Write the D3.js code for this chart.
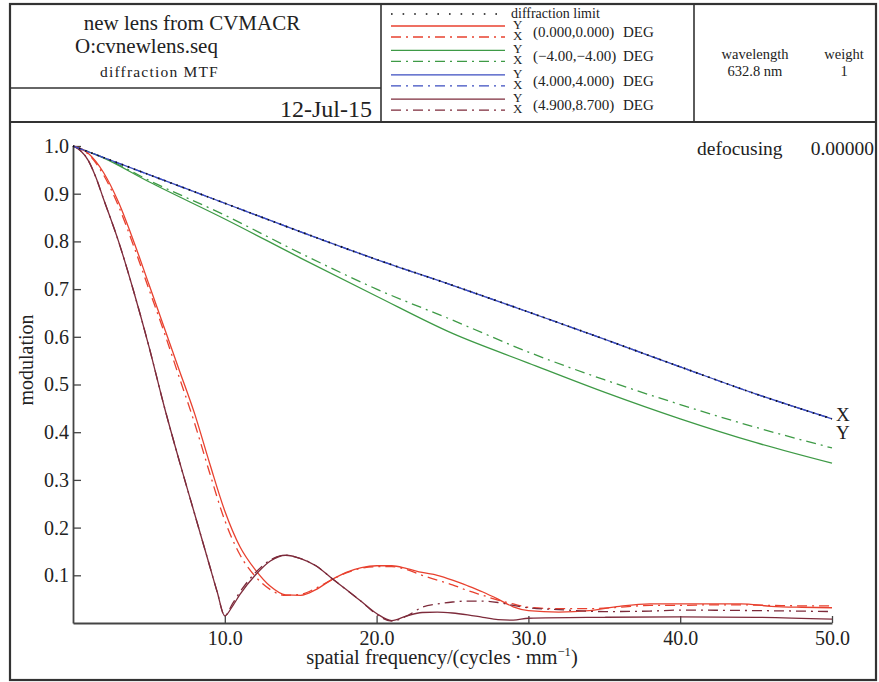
<!DOCTYPE html>
<html>
<head>
<meta charset="utf-8">
<script src="https://cdn.jsdelivr.net/npm/d3@7/dist/d3.min.js"></script>
<style>
	body { margin: 0; background: #fff; }
	text { font-family: "Liberation Serif", "Times New Roman", serif; fill: #222; }
</style>
</head>
<body>
<div id="chart"></div>
<script>
// MTF data: [spatial frequency, modulation]
var diffLimit = [[0,1.0],[5,0.94],[10,0.88],[15,0.82],[20,0.762],[25,0.708],[30,0.652],[35,0.595],[40,0.537],[45,0.48],[50,0.428]];
var blueY = [[0,1.0],[5,0.94],[10,0.88],[15,0.82],[20,0.762],[25,0.708],[30,0.652],[35,0.595],[40,0.537],[45,0.48],[50,0.428]];
var blueX = [[0,1.0],[5,0.94],[10,0.88],[15,0.82],[20,0.762],[25,0.708],[30,0.652],[35,0.595],[40,0.537],[45,0.48],[50,0.428]];
var greenY = [[0,1.0],[2,0.975],[5,0.925],[10,0.847],[15,0.765],[20,0.685],[25,0.607],[30,0.545],[35,0.484],[40,0.428],[45,0.378],[50,0.335]];
var greenX = [[0,1.0],[2,0.976],[5,0.928],[10,0.855],[15,0.775],[20,0.7],[25,0.635],[30,0.568],[35,0.51],[40,0.458],[45,0.41],[50,0.367]];
var redY = [[0,1.0],[1,0.985],[2,0.945],[3,0.882],[4,0.8],[5,0.71],[6,0.62],[7,0.53],[8,0.44],[9,0.335],[10,0.235],[11,0.16],[12,0.112],[13,0.077],[14,0.059],[15,0.058],[16,0.07],[17,0.09],[18,0.106],[19,0.116],[20,0.12],[21,0.12],[22,0.114],[23,0.106],[24,0.1],[25,0.09],[26,0.078],[27,0.065],[28,0.05],[29,0.034],[30,0.026],[32,0.023],[34,0.026],[36,0.035],[38,0.04],[40,0.04],[42,0.04],[44,0.04],[46,0.035],[48,0.033],[50,0.032]];
var redX = [[0,1.0],[1,0.983],[2,0.94],[3,0.874],[4,0.79],[5,0.7],[6,0.61],[7,0.515],[8,0.42],[9,0.315],[10,0.215],[11,0.143],[12,0.098],[13,0.07],[14,0.058],[15,0.06],[16,0.073],[17,0.09],[18,0.105],[19,0.115],[20,0.118],[21,0.118],[22,0.112],[23,0.1],[24,0.09],[25,0.08],[26,0.068],[27,0.058],[28,0.048],[29,0.04],[30,0.033],[32,0.03],[34,0.03],[36,0.033],[38,0.037],[40,0.037],[42,0.038],[44,0.038],[46,0.037],[48,0.036],[50,0.036]];
var brownY = [[0,1.0],[0.5,0.99],[1,0.97],[1.5,0.935],[2,0.89],[3,0.8],[4,0.695],[5,0.58],[6,0.455],[7,0.34],[8,0.23],[9,0.12],[9.5,0.065],[10,0.015],[10.5,0.035],[11,0.06],[12,0.1],[13,0.13],[14,0.142],[15,0.135],[16,0.12],[17,0.095],[18,0.07],[19,0.045],[20,0.02],[21,0.005],[22,0.015],[23,0.022],[24,0.023],[25,0.021],[26,0.017],[27,0.012],[28,0.007],[29,0.006],[30,0.01],[35,0.012],[40,0.013],[45,0.012],[50,0.008]];
var brownX = [[0,1.0],[0.5,0.99],[1,0.97],[1.5,0.935],[2,0.89],[3,0.8],[4,0.695],[5,0.58],[6,0.455],[7,0.34],[8,0.23],[9,0.12],[9.5,0.065],[10,0.015],[10.5,0.04],[11,0.065],[12,0.105],[13,0.132],[14,0.142],[15,0.135],[16,0.12],[17,0.095],[18,0.07],[19,0.045],[20,0.018],[21,0.004],[22,0.015],[23,0.033],[24,0.04],[25,0.044],[26,0.046],[27,0.046],[28,0.043],[29,0.037],[30,0.032],[32,0.028],[35,0.024],[38,0.025],[40,0.027],[45,0.026],[50,0.024]];

var fieldLabels = ["(0.000,0.000)", "(\u22124.00,\u22124.00)", "(4.000,4.000)", "(4.900,8.700)"];
var fieldColors = ["#e8412f", "#3e9a46", "#3b4cc0", "#7d2b3b"];
var xTicks = [10, 20, 30, 40, 50];
var yTicks = [0.1, 0.2, 0.3, 0.4, 0.5, 0.6, 0.7, 0.8, 0.9, 1.0];

var width = 879;
var height = 682;

var svg = d3.select("#chart")
	.append("svg")
	.attr("width", width)
	.attr("height", height);

var frameColor = "#333";

// outer frame and header boxes
svg.append("rect")
	.attr("x", 10).attr("y", 4)
	.attr("width", 866).attr("height", 676)
	.attr("fill", "none").attr("stroke", frameColor).attr("stroke-width", 2.2);

svg.append("line").attr("x1", 10).attr("x2", 876).attr("y1", 122).attr("y2", 122)
	.attr("stroke", frameColor).attr("stroke-width", 2);
svg.append("line").attr("x1", 381).attr("x2", 381).attr("y1", 4).attr("y2", 122)
	.attr("stroke", frameColor).attr("stroke-width", 1.6);
svg.append("line").attr("x1", 694).attr("x2", 694).attr("y1", 4).attr("y2", 122)
	.attr("stroke", frameColor).attr("stroke-width", 1.6);
svg.append("line").attr("x1", 10).attr("x2", 381).attr("y1", 88).attr("y2", 88)
	.attr("stroke", frameColor).attr("stroke-width", 1.6);

// left header texts
svg.append("text").attr("x", 192).attr("y", 30).attr("text-anchor", "middle")
	.attr("font-size", "21px").text("new lens from CVMACR");
svg.append("text").attr("x", 75).attr("y", 53)
	.attr("font-size", "21px").text("O:cvnewlens.seq");
svg.append("text").attr("x", 100).attr("y", 77)
	.attr("font-size", "15.5px").attr("letter-spacing", "1.2px").text("diffraction MTF");
svg.append("text").attr("x", 372).attr("y", 117).attr("text-anchor", "end")
	.attr("font-size", "24px").text("12-Jul-15");

// right header texts
svg.append("text").attr("x", 755).attr("y", 59).attr("text-anchor", "middle")
	.attr("font-size", "14.5px").text("wavelength");
svg.append("text").attr("x", 755).attr("y", 76).attr("text-anchor", "middle")
	.attr("font-size", "14.5px").text("632.8 nm");
svg.append("text").attr("x", 844).attr("y", 59).attr("text-anchor", "middle")
	.attr("font-size", "14.5px").text("weight");
svg.append("text").attr("x", 844).attr("y", 76).attr("text-anchor", "middle")
	.attr("font-size", "14.5px").text("1");

// legend
var legend = svg.append("g");
legend.append("line").attr("x1", 391).attr("x2", 505).attr("y1", 14).attr("y2", 14)
	.attr("stroke", "#111").attr("stroke-width", 1.6).attr("stroke-dasharray", "1.6,10");
legend.append("text").attr("x", 511).attr("y", 18).attr("font-size", "14px").text("diffraction limit");

fieldLabels.forEach(function (label, i) {
	var ys = 26 + 24.4 * i;
	legend.append("line").attr("x1", 391).attr("x2", 505).attr("y1", ys).attr("y2", ys)
		.attr("stroke", fieldColors[i]).attr("stroke-width", 1.3);
	legend.append("line").attr("x1", 391).attr("x2", 505).attr("y1", ys + 11).attr("y2", ys + 11)
		.attr("stroke", fieldColors[i]).attr("stroke-width", 1.3).attr("stroke-dasharray", "10,5,2,5");
	legend.append("text").attr("x", 513).attr("y", ys + 3).attr("font-size", "13px").text("Y");
	legend.append("text").attr("x", 513).attr("y", ys + 14).attr("font-size", "13px").text("X");
	legend.append("text").attr("x", 533).attr("y", ys + 11).attr("font-size", "15px").text(label);
	legend.append("text").attr("x", 623).attr("y", ys + 11).attr("font-size", "15px").text("DEG");
});

// plot area
var xScale = d3.scaleLinear().domain([0, 50]).range([73, 832]);
var yScale = d3.scaleLinear().domain([0, 1]).range([623, 146]);

var yAxis = d3.axisLeft(yScale)
	.tickValues(yTicks)
	.tickFormat(d3.format(".1f"))
	.tickSizeInner(-8)
	.tickSizeOuter(0)
	.tickPadding(4);
var xAxis = d3.axisBottom(xScale)
	.tickValues(xTicks)
	.tickFormat(d3.format(".1f"))
	.tickSizeInner(-7)
	.tickSizeOuter(0)
	.tickPadding(8);

var yAxisG = svg.append("g").attr("transform", "translate(73,0)").call(yAxis);
var xAxisG = svg.append("g").attr("transform", "translate(0,623)").call(xAxis);

[yAxisG, xAxisG].forEach(function (g) {
	g.select(".domain").attr("stroke", "#444").attr("stroke-width", 1.8);
	g.selectAll(".tick line").attr("stroke", "#444").attr("stroke-width", 1.3);
	g.selectAll(".tick text")
		.attr("font-size", "20px")
		.attr("fill", "#222");
});

// axis titles
svg.append("text")
	.attr("transform", "translate(33,360) rotate(-90)")
	.attr("text-anchor", "middle")
	.attr("font-size", "20px")
	.text("modulation");

var xTitle = svg.append("text")
	.attr("x", 442).attr("y", 664)
	.attr("text-anchor", "middle")
	.attr("font-size", "20.5px");
xTitle.append("tspan").text("spatial frequency/(cycles\u2009\u00b7\u2009mm");
xTitle.append("tspan").attr("font-size", "12.5px").attr("dy", "-8").text("\u22121");
xTitle.append("tspan").attr("dy", "8").text(")");

svg.append("text").attr("x", 697).attr("y", 155).attr("font-size", "19.5px").text("defocusing");
svg.append("text").attr("x", 874).attr("y", 155).attr("text-anchor", "end").attr("font-size", "19.5px").text("0.00000");

// curves
var line = d3.line()
	.x(function (d) { return xScale(d[0]); })
	.y(function (d) { return yScale(d[1]); })
	.curve(d3.curveMonotoneX);

var series = [
	{ data: greenY, color: fieldColors[1], dash: null },
	{ data: greenX, color: fieldColors[1], dash: "10,5,2,5" },
	{ data: redY, color: fieldColors[0], dash: null },
	{ data: redX, color: fieldColors[0], dash: "10,5,2,5" },
	{ data: brownY, color: fieldColors[3], dash: null },
	{ data: brownX, color: fieldColors[3], dash: "10,5,2,5" },
	{ data: blueY, color: fieldColors[2], dash: null },
	{ data: blueX, color: fieldColors[2], dash: "10,5,2,5" }
];

var curveGroup = svg.append("g");
series.forEach(function (s) {
	curveGroup.append("path")
		.datum(s.data)
		.attr("d", line)
		.attr("fill", "none")
		.attr("stroke", s.color)
		.attr("stroke-width", 1.3)
		.attr("stroke-dasharray", s.dash);
});

curveGroup.append("path")
	.datum(diffLimit)
	.attr("d", line)
	.attr("fill", "none")
	.attr("stroke", "#111")
	.attr("stroke-width", 1.7)
	.attr("stroke-dasharray", "1.5,5");

// end labels for the top curves
svg.append("text").attr("x", 836).attr("y", 421).attr("font-size", "19px").text("X");
svg.append("text").attr("x", 836).attr("y", 439).attr("font-size", "19px").text("Y");
</script>
</body>
</html>
